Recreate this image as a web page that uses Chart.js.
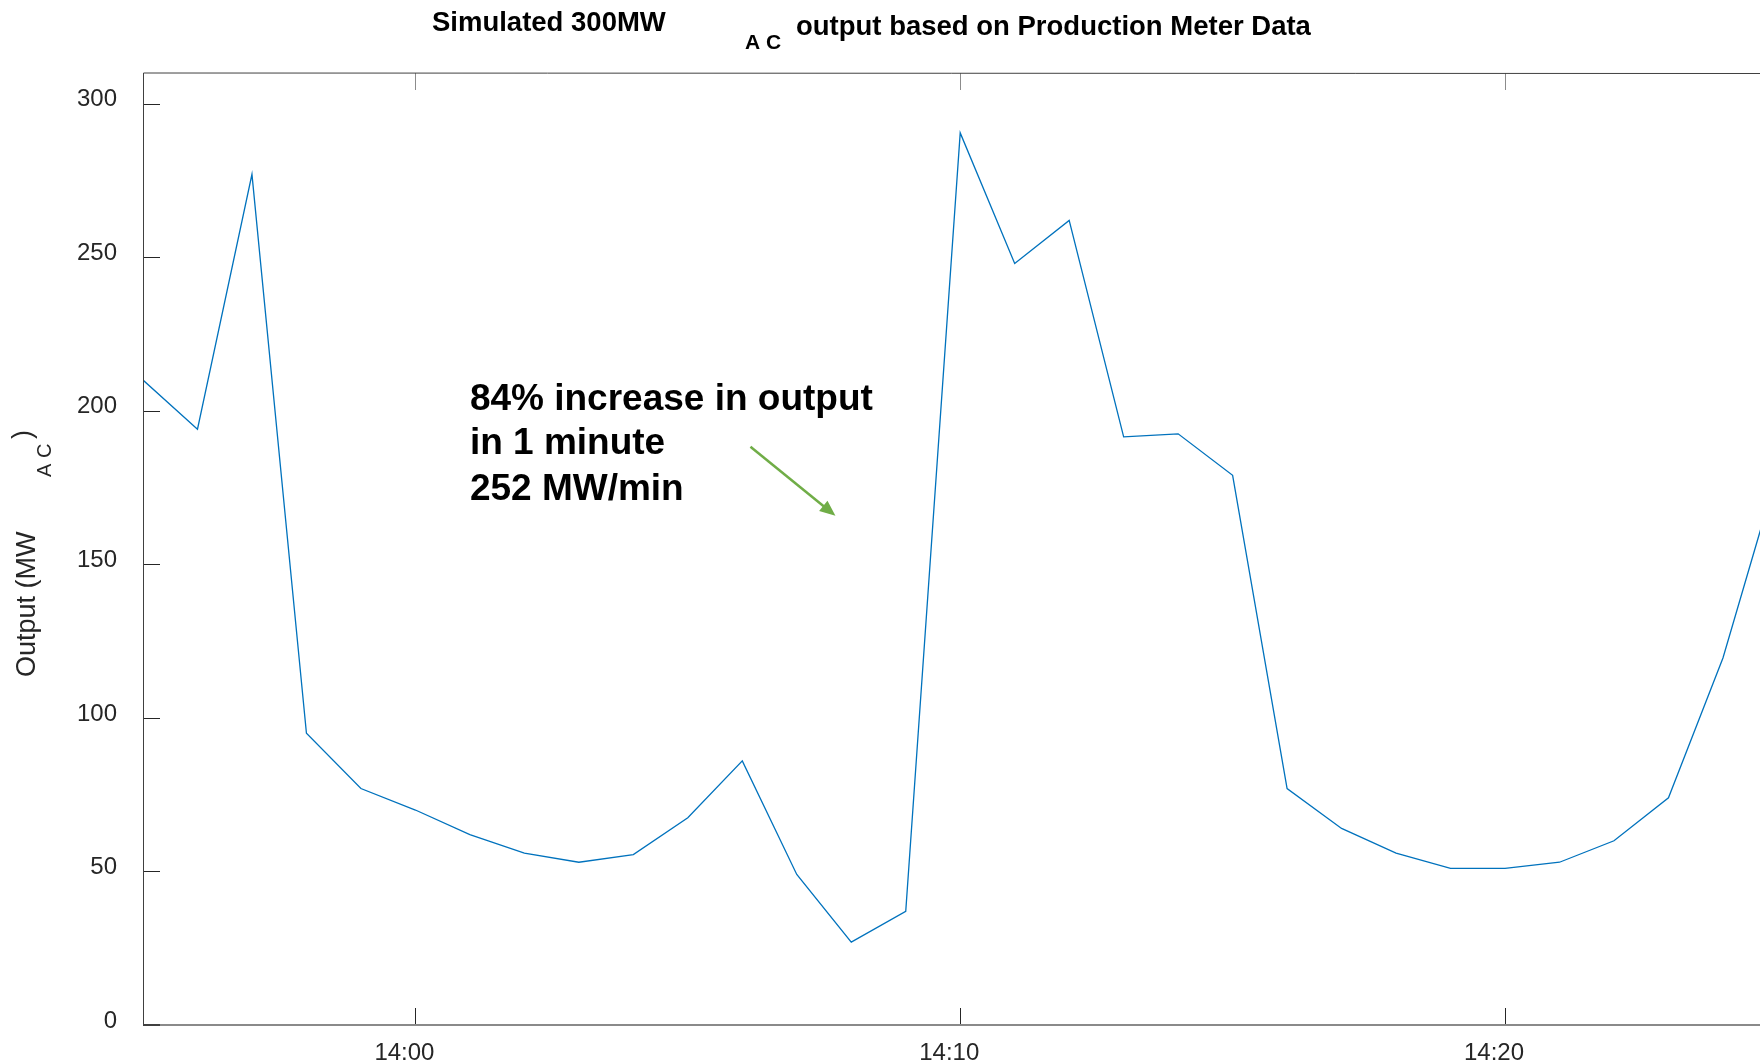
<!DOCTYPE html>
<html>
<head>
<meta charset="utf-8">
<script src="https://cdn.jsdelivr.net/npm/chart.js@4"></script>
<style>
  html, body { margin: 0; padding: 0; background: #fff; }
  #wrap { width: 1760px; height: 1063px; }
</style>
</head>
<body>
<div id="wrap"><canvas id="powerChart" width="1760" height="1063"></canvas></div>
<script>
// one sample per minute
const times = ['13:55', '13:56', '13:57', '13:58', '13:59', '14:00', '14:01', '14:02', '14:03', '14:04',
               '14:05', '14:06', '14:07', '14:08', '14:09', '14:10', '14:11', '14:12', '14:13', '14:14',
               '14:15', '14:16', '14:17', '14:18', '14:19', '14:20', '14:21', '14:22', '14:23', '14:24', '14:25'];
const outputMW = [210, 194, 277, 95, 77, 70, 62, 56, 53, 55.5,
                  67.5, 86, 49, 27, 37, 290.5, 248, 262, 191.5, 192.5,
                  179, 77, 64, 56, 51, 51, 53, 60, 74, 119.5, 180];
const xTickLabels = ['14:00', '14:10', '14:20'];
const yTickValues = [0, 50, 100, 150, 200, 250, 300];
const annotationLines = ['84% increase in output', 'in 1 minute', '252 MW/min'];

function toMinutes(t) {
    const [h, m] = t.split(':').map(Number);
    return (h - 14) * 60 + m;
}

const points = times.map((t, i) => ({ x: toMinutes(t), y: outputMW[i] }));

const frameAndText = {
    id: 'frameAndText',
    afterDraw(chart) {
        const ctx = chart.ctx;
        const area = chart.chartArea;
        const xs = chart.scales.x;
        const ys = chart.scales.y;
        ctx.save();

        // inside tick marks
        ctx.lineWidth = 1;
        ctx.strokeStyle = '#262626';
        yTickValues.forEach(v => {
            const y = Math.round(ys.getPixelForValue(v)) + 0.5;
            ctx.beginPath();
            ctx.moveTo(area.left, y);
            ctx.lineTo(area.left + 17, y);
            ctx.stroke();
        });
        xTickLabels.forEach(l => {
            const x = Math.round(xs.getPixelForValue(toMinutes(l))) + 0.5;
            ctx.strokeStyle = '#262626';
            ctx.beginPath();
            ctx.moveTo(x, area.bottom);
            ctx.lineTo(x, area.bottom - 17);
            ctx.stroke();
            ctx.strokeStyle = '#8c8c8c';
            ctx.beginPath();
            ctx.moveTo(x, area.top);
            ctx.lineTo(x, area.top + 17);
            ctx.stroke();
        });

        // box lines
        ctx.strokeStyle = '#404040';
        ctx.lineWidth = 1;
        ctx.beginPath();
        ctx.moveTo(Math.round(area.left) + 0.5, area.bottom);
        ctx.lineTo(Math.round(area.left) + 0.5, area.top);
        ctx.lineTo(area.right, area.top + 0.5);
        ctx.stroke();
        ctx.strokeStyle = '#8a8a8a';
        ctx.lineWidth = 2;
        ctx.beginPath();
        ctx.moveTo(area.left + 17, area.bottom);
        ctx.lineTo(area.right, area.bottom);
        ctx.stroke();
        ctx.strokeStyle = '#404040';
        ctx.beginPath();
        ctx.moveTo(area.left, area.bottom);
        ctx.lineTo(area.left + 17, area.bottom);
        ctx.stroke();

        // title with subscript
        ctx.fillStyle = '#000';
        ctx.textBaseline = 'middle';
        ctx.textAlign = 'left';
        ctx.font = 'bold 27.5px "Liberation Sans", Arial, sans-serif';
        ctx.fillText('Simulated 300MW', 432, 23);
        ctx.fillText('output based on Production Meter Data', 796, 27);
        ctx.font = 'bold 21px "Liberation Sans", Arial, sans-serif';
        ctx.fillText('A C', 745, 43);

        // y axis title
        ctx.save();
        ctx.translate(28, 677);
        ctx.rotate(-Math.PI / 2);
        ctx.fillStyle = '#262626';
        ctx.font = '27px "Liberation Sans", Arial, sans-serif';
        ctx.fillText('Output (MW', 0, 0);
        ctx.fillText(')', 238, -4);
        ctx.font = '20px "Liberation Sans", Arial, sans-serif';
        ctx.fillText('A C', 200, 17);
        ctx.restore();

        // annotation
        ctx.fillStyle = '#000';
        ctx.font = 'bold 37px "Liberation Sans", Arial, sans-serif';
        const tx = xs.getPixelForValue(1.0);
        const lineY = [203.7, 189.1, 174.4];
        annotationLines.forEach((s, i) => ctx.fillText(s, tx, ys.getPixelForValue(lineY[i])));

        const x1 = xs.getPixelForValue(6.15), y1 = ys.getPixelForValue(188.3);
        const x2 = xs.getPixelForValue(7.71), y2 = ys.getPixelForValue(165.8);
        const ang = Math.atan2(y2 - y1, x2 - x1);
        const head = 17;
        ctx.strokeStyle = '#70ad47';
        ctx.fillStyle = '#70ad47';
        ctx.lineWidth = 2.5;
        ctx.beginPath();
        ctx.moveTo(x1, y1);
        ctx.lineTo(x2 - head * 0.8 * Math.cos(ang), y2 - head * 0.8 * Math.sin(ang));
        ctx.stroke();
        ctx.beginPath();
        ctx.moveTo(x2, y2);
        ctx.lineTo(x2 - head * Math.cos(ang - 0.4), y2 - head * Math.sin(ang - 0.4));
        ctx.lineTo(x2 - head * Math.cos(ang + 0.4), y2 - head * Math.sin(ang + 0.4));
        ctx.closePath();
        ctx.fill();

        ctx.restore();
    }
};

new Chart(document.getElementById('powerChart'), {
    type: 'line',
    data: {
        datasets: [{
            data: points,
            borderColor: '#0072bd',
            borderWidth: 1.3,
            pointRadius: 0,
            tension: 0,
            fill: false
        }]
    },
    options: {
        responsive: false,
        animation: false,
        events: [],
        layout: { padding: { top: 73, left: 0, right: 0, bottom: 0 } },
        plugins: {
            legend: { display: false },
            tooltip: { enabled: false },
            title: { display: false }
        },
        scales: {
            x: {
                type: 'linear',
                min: -5,
                max: 24.68,
                grid: { display: false },
                border: { display: false },
                afterBuildTicks: scale => {
                    scale.ticks = xTickLabels.map(l => ({ value: toMinutes(l) }));
                },
                afterFit: scale => { scale.height = 38; },
                ticks: {
                    padding: 6,
                    labelOffset: -11,
                    color: '#262626',
                    font: { family: '"Liberation Sans", Arial, sans-serif', size: 24 },
                    callback: function(value) {
                        const i = xTickLabels.findIndex(l => toMinutes(l) === value);
                        return i >= 0 ? xTickLabels[i] : '';
                    }
                }
            },
            y: {
                min: 0,
                max: 310,
                grid: { display: false },
                border: { display: false },
                afterBuildTicks: scale => {
                    scale.ticks = yTickValues.map(v => ({ value: v }));
                },
                afterFit: scale => { scale.width = 143; },
                ticks: {
                    padding: 18,
                    labelOffset: -4,
                    color: '#262626',
                    font: { family: '"Liberation Sans", Arial, sans-serif', size: 24 }
                }
            }
        }
    },
    plugins: [frameAndText]
});
</script>
</body>
</html>
